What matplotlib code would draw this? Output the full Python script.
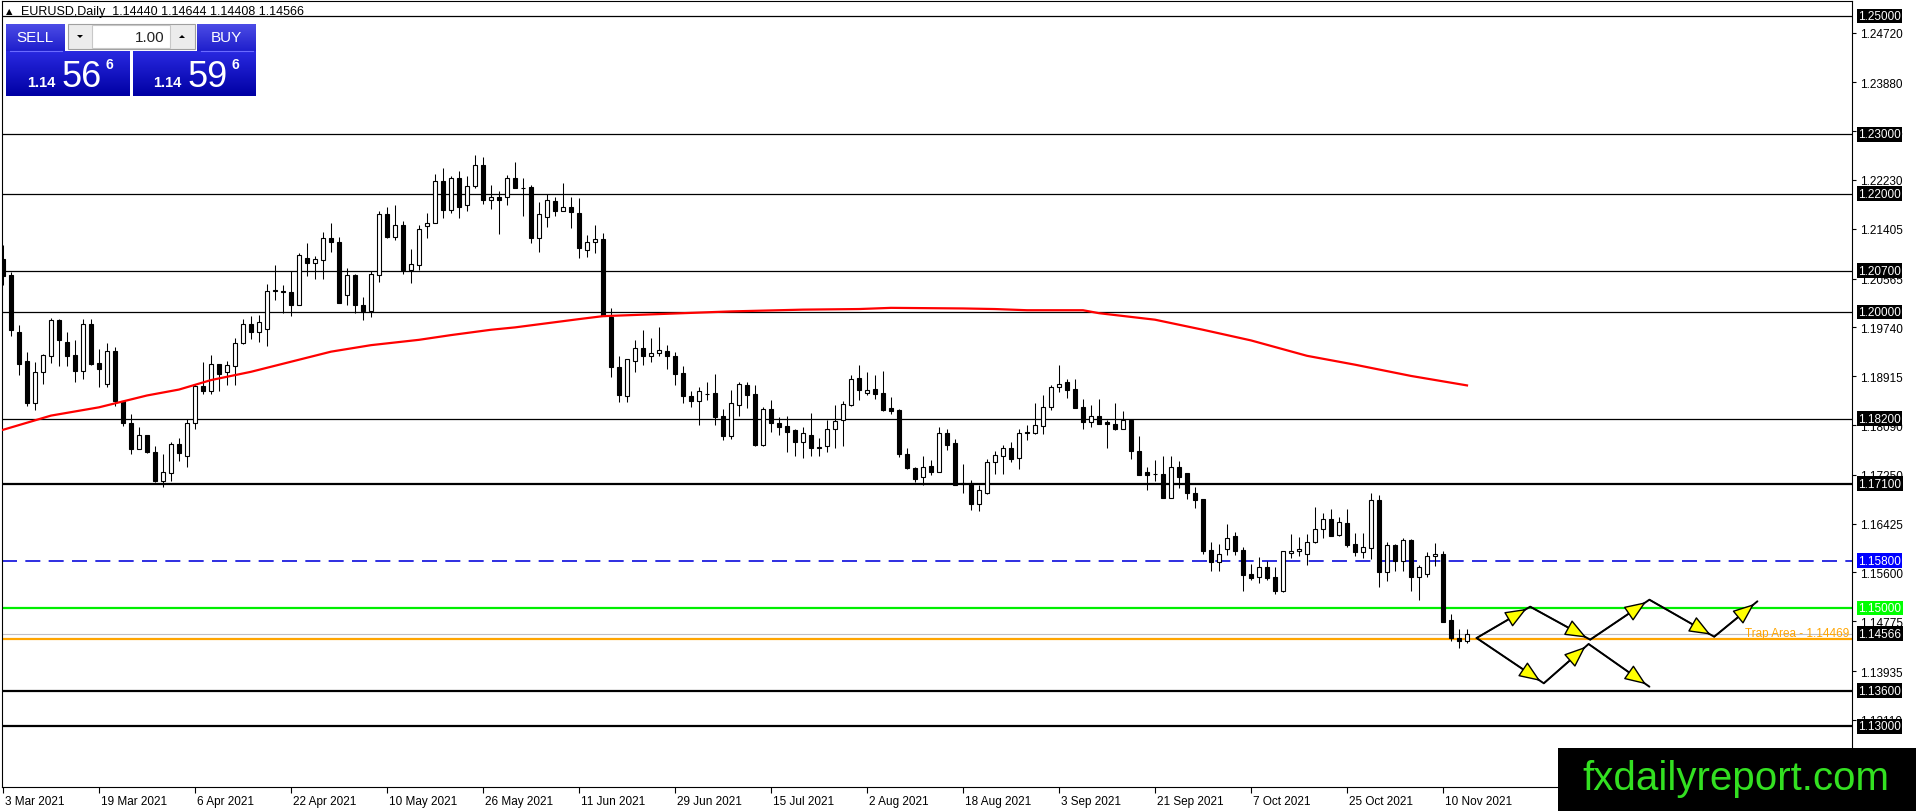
import numpy as np
import matplotlib
matplotlib.use("Agg")
import matplotlib.pyplot as plt
from matplotlib import transforms
from matplotlib.patches import Rectangle, Polygon

plt.rcParams['font.family'] = ['Liberation Sans', 'DejaVu Sans']

# one bar per trading day, bar 0 = 3 Mar 2021, last bar = 15 Nov 2021
opens = [
    1.2090, 1.2063, 1.1967, 1.1917, 1.1846, 1.1899, 1.1926, 1.1986, 1.1949, 1.1927,
    1.1901, 1.1979, 1.1914, 1.1879, 1.1934, 1.1849, 1.1812, 1.1769, 1.1792, 1.1763,
    1.1715, 1.1728, 1.1777, 1.1756, 1.1812, 1.1875, 1.1866, 1.1912, 1.1898, 1.1908,
    1.1947, 1.1980, 1.1966, 1.1972, 1.2038, 1.2036, 1.2033, 1.2012, 1.2091, 1.2083,
    1.2088, 1.2125, 1.2119, 1.2029, 1.2063, 1.2012, 1.2002, 1.2063, 1.2166, 1.2126,
    1.2147, 1.2071, 1.2080, 1.2145, 1.2151, 1.2221, 1.2173, 1.2226, 1.2180, 1.2212,
    1.2248, 1.2190, 1.2194, 1.2194, 1.2226, 1.2210, 1.2211, 1.2125, 1.2161, 1.2187,
    1.2171, 1.2178, 1.2168, 1.2105, 1.2118, 1.2124, 1.1991, 1.1907, 1.1858, 1.1917,
    1.1939, 1.1925, 1.1930, 1.1934, 1.1925, 1.1897, 1.1858, 1.1849, 1.1862, 1.1863,
    1.1824, 1.1790, 1.1843, 1.1877, 1.1861, 1.1775, 1.1836, 1.1812, 1.1807, 1.1800,
    1.1781, 1.1793, 1.1772, 1.1773, 1.1803, 1.1817, 1.1843, 1.1888, 1.1864, 1.1870,
    1.1863, 1.1837, 1.1834, 1.1760, 1.1736, 1.1721, 1.1740, 1.1729, 1.1795, 1.1779,
    1.1711, 1.1711, 1.1675, 1.1694, 1.1746, 1.1756, 1.1771, 1.1753, 1.1797, 1.1796,
    1.1808, 1.1839, 1.1874, 1.1881, 1.1870, 1.1839, 1.1815, 1.1825, 1.1814, 1.1811,
    1.1802, 1.1818, 1.1765, 1.1729, 1.1726, 1.1726, 1.1686, 1.1738, 1.1728, 1.1695,
    1.1684, 1.1598, 1.1577, 1.1599, 1.1621, 1.1598, 1.1557, 1.1552, 1.1569, 1.1552,
    1.1528, 1.1593, 1.1596, 1.1592, 1.1611, 1.1634, 1.1651, 1.1623, 1.1644, 1.1608,
    1.1595, 1.1601, 1.1682, 1.1561, 1.1606, 1.1579, 1.1615, 1.1553, 1.1558, 1.1587,
    1.1592, 1.1480, 1.1450, 1.14440,
]
highs = [
    1.2113, 1.2068, 1.1978, 1.1932, 1.1915, 1.1929, 1.1990, 1.1988, 1.1967, 1.1953,
    1.1988, 1.1988, 1.1937, 1.1948, 1.1941, 1.1849, 1.1828, 1.1805, 1.1793, 1.1773,
    1.1760, 1.1781, 1.1788, 1.1820, 1.1878, 1.1915, 1.1927, 1.1912, 1.1918, 1.1956,
    1.1988, 1.1994, 1.1995, 1.2048, 1.2079, 1.2045, 1.2070, 1.2100, 1.2116, 1.2094,
    1.2135, 1.2150, 1.2126, 1.2075, 1.2064, 1.2026, 1.2069, 1.2171, 1.2177, 1.2181,
    1.2153, 1.2106, 1.2147, 1.2168, 1.2233, 1.2244, 1.2229, 1.2239, 1.2229, 1.2265,
    1.2261, 1.2214, 1.2205, 1.2231, 1.2254, 1.2226, 1.2214, 1.2185, 1.2200, 1.2195,
    1.2218, 1.2194, 1.2192, 1.2130, 1.2147, 1.2134, 1.2006, 1.1925, 1.1921, 1.1953,
    1.1970, 1.1956, 1.1974, 1.1944, 1.1932, 1.1909, 1.1867, 1.1874, 1.1882, 1.1895,
    1.1836, 1.1868, 1.1882, 1.1881, 1.1877, 1.1839, 1.1851, 1.1822, 1.1824, 1.1803,
    1.1805, 1.1830, 1.1787, 1.1817, 1.1843, 1.1850, 1.1894, 1.1910, 1.1898, 1.1894,
    1.1900, 1.1857, 1.1836, 1.1770, 1.1739, 1.1756, 1.1750, 1.1805, 1.1802, 1.1785,
    1.1743, 1.1716, 1.1707, 1.1752, 1.1766, 1.1775, 1.1780, 1.1803, 1.1809, 1.1846,
    1.1859, 1.1877, 1.1910, 1.1887, 1.1887, 1.1853, 1.1843, 1.1853, 1.1818, 1.1846,
    1.1833, 1.1818, 1.1790, 1.1739, 1.1750, 1.1756, 1.1756, 1.1749, 1.1728, 1.1704,
    1.1684, 1.1611, 1.1608, 1.1642, 1.1629, 1.1603, 1.1574, 1.1586, 1.1580, 1.1570,
    1.1597, 1.1625, 1.1620, 1.1625, 1.1670, 1.1661, 1.1668, 1.1653, 1.1667, 1.1627,
    1.1627, 1.1694, 1.1691, 1.1611, 1.1608, 1.1618, 1.1617, 1.1573, 1.1594, 1.1610,
    1.1597, 1.1490, 1.1464, 1.14644,
]
lows = [
    1.2045, 1.1960, 1.1893, 1.1842, 1.1835, 1.1878, 1.1914, 1.1909, 1.1909, 1.1882,
    1.1886, 1.1910, 1.1873, 1.1874, 1.1842, 1.1808, 1.1760, 1.1768, 1.1762, 1.1712,
    1.1704, 1.1714, 1.1749, 1.1738, 1.1803, 1.1861, 1.1861, 1.1867, 1.1876, 1.1877,
    1.1946, 1.1954, 1.1950, 1.1942, 1.2021, 1.1998, 1.1993, 1.2012, 1.2060, 1.2056,
    1.2055, 1.2101, 1.2016, 1.2012, 1.1999, 1.1986, 1.1992, 1.2051, 1.2125, 1.2122,
    1.2064, 1.2049, 1.2071, 1.2125, 1.2150, 1.2159, 1.2168, 1.2159, 1.2171, 1.2209,
    1.2182, 1.2174, 1.2131, 1.2181, 1.2209, 1.2163, 1.2117, 1.2102, 1.2144, 1.2163,
    1.2170, 1.2142, 1.2091, 1.2093, 1.2100, 1.1994, 1.1891, 1.1848, 1.1848, 1.1898,
    1.1911, 1.1916, 1.1925, 1.1903, 1.1877, 1.1846, 1.1839, 1.1809, 1.1851, 1.1809,
    1.1783, 1.1785, 1.1825, 1.1837, 1.1773, 1.1773, 1.1797, 1.1793, 1.1764, 1.1756,
    1.1753, 1.1757, 1.1756, 1.1763, 1.1771, 1.1774, 1.1841, 1.1852, 1.1859, 1.1853,
    1.1833, 1.1828, 1.1755, 1.1735, 1.1712, 1.1707, 1.1724, 1.1729, 1.1767, 1.1708,
    1.1694, 1.1666, 1.1664, 1.1693, 1.1726, 1.1726, 1.1747, 1.1735, 1.1783, 1.1794,
    1.1794, 1.1835, 1.1865, 1.1855, 1.1838, 1.1802, 1.1806, 1.1810, 1.1771, 1.1800,
    1.1802, 1.1751, 1.1724, 1.1700, 1.1715, 1.1685, 1.1685, 1.1702, 1.1684, 1.1669,
    1.1591, 1.1563, 1.1563, 1.1589, 1.1589, 1.1529, 1.1548, 1.1542, 1.1548, 1.1524,
    1.1527, 1.1585, 1.1587, 1.1573, 1.1609, 1.1618, 1.1621, 1.1622, 1.1603, 1.1587,
    1.1585, 1.1583, 1.1536, 1.1546, 1.1563, 1.1563, 1.1529, 1.1514, 1.1552, 1.1571,
    1.1476, 1.1445, 1.1433, 1.14408,
]
closes = [
    1.2061, 1.1969, 1.1913, 1.1846, 1.1899, 1.1927, 1.1986, 1.1952, 1.1926, 1.1901,
    1.1979, 1.1913, 1.1903, 1.1934, 1.1850, 1.1812, 1.1769, 1.1793, 1.1763, 1.1715,
    1.1729, 1.1777, 1.1762, 1.1812, 1.1875, 1.1867, 1.1913, 1.1896, 1.1910, 1.1947,
    1.1979, 1.1966, 1.1983, 1.2036, 1.2035, 1.2033, 1.2012, 1.2096, 1.2083, 1.2089,
    1.2125, 1.2119, 1.2016, 1.2062, 1.2011, 1.2002, 1.2064, 1.2166, 1.2127, 1.2147,
    1.2071, 1.2081, 1.2140, 1.2150, 1.2221, 1.2173, 1.2226, 1.2178, 1.2212, 1.2248,
    1.2190, 1.2194, 1.2190, 1.2226, 1.2209, 1.2209, 1.2125, 1.2165, 1.2189, 1.2171,
    1.2178, 1.2169, 1.2108, 1.2118, 1.2124, 1.1994, 1.1907, 1.1859, 1.1920, 1.1939,
    1.1925, 1.1930, 1.1936, 1.1925, 1.1896, 1.1858, 1.1849, 1.1866, 1.1861, 1.1823,
    1.1790, 1.1846, 1.1878, 1.1860, 1.1775, 1.1836, 1.1812, 1.1805, 1.1798, 1.1780,
    1.1795, 1.1771, 1.1771, 1.1803, 1.1816, 1.1844, 1.1886, 1.1869, 1.1869, 1.1861,
    1.1835, 1.1833, 1.1760, 1.1736, 1.1718, 1.1739, 1.1729, 1.1795, 1.1776, 1.1708,
    1.1709, 1.1675, 1.1699, 1.1746, 1.1758, 1.1771, 1.1751, 1.1795, 1.1796, 1.1809,
    1.1839, 1.1874, 1.1878, 1.1869, 1.1838, 1.1815, 1.1825, 1.1810, 1.1810, 1.1802,
    1.1818, 1.1765, 1.1724, 1.1725, 1.1726, 1.1686, 1.1738, 1.1721, 1.1695, 1.1683,
    1.1597, 1.1577, 1.1592, 1.1619, 1.1597, 1.1556, 1.1551, 1.1569, 1.1551, 1.1528,
    1.1596, 1.1596, 1.1600, 1.1611, 1.1633, 1.1651, 1.1622, 1.1645, 1.1607, 1.1595,
    1.1603, 1.1682, 1.1561, 1.1606, 1.1579, 1.1615, 1.1553, 1.1569, 1.1587, 1.1592,
    1.1477, 1.1450, 1.1444, 1.14566,
]

# red moving average, read at a few bars
ma_bars = [0, 6, 12, 18, 22, 26, 31, 36, 41, 46, 52, 56, 61, 64, 68, 72, 75, 79,
           85, 91, 100, 107, 111, 120, 124, 128, 135, 137, 144, 150, 156, 163,
           169, 176, 183]
ma_vals = [1.1801, 1.1825, 1.1839, 1.1859, 1.1869, 1.1885, 1.1899, 1.1916, 1.1933,
           1.1944, 1.1953, 1.1961, 1.1970, 1.1974, 1.1981, 1.1988, 1.1993, 1.1995,
           1.1998, 1.2001, 1.2004, 1.2005, 1.2007, 1.2006, 1.2005, 1.2003, 1.2003,
           1.1998, 1.1987, 1.1970, 1.1952, 1.1926, 1.1911, 1.1892, 1.1876]

date_ticks = list(range(0, 181, 12))
date_labels = ["3 Mar 2021", "19 Mar 2021", "6 Apr 2021", "22 Apr 2021",
               "10 May 2021", "26 May 2021", "11 Jun 2021", "29 Jun 2021",
               "15 Jul 2021", "2 Aug 2021", "18 Aug 2021", "3 Sep 2021",
               "21 Sep 2021", "7 Oct 2021", "25 Oct 2021", "10 Nov 2021"]

price_ticks = [1.24720, 1.23880, 1.23055, 1.22230, 1.21405, 1.20565, 1.19740,
               1.18915, 1.18090, 1.17250, 1.16425, 1.15600, 1.14775, 1.13935,
               1.13110]

thin_levels = [1.25, 1.23, 1.22, 1.207, 1.20, 1.182]
thick_levels = [1.171, 1.136, 1.13]
blue_level = 1.158
green_level = 1.15
trap_level = 1.14469
last_price = 1.14566

# projected zigzag paths (bar index, price)
up_path_x = [184.2, 190.9, 198.4, 205.8, 213.9, 219.3]
up_path_y = [1.14493, 1.15022, 1.14465, 1.15140, 1.14515, 1.15113]
down_path_x = [184.2, 192.6, 198.2, 205.8]
down_path_y = [1.14493, 1.13728, 1.14392, 1.13671]

W, H = 1916, 812
fig = plt.figure(figsize=(W / 100, H / 100), dpi=100)
fig.patch.set_facecolor("white")
ax = fig.add_axes([2 / W, 24 / H, 1850 / W, 786 / H])
ax.set_xlim(-0.125, 231.125)
ax.set_ylim(1.119764, 1.252534)

# levels
for lv in thin_levels:
    ax.axhline(lv, color="black", lw=0.9, zorder=2)
for lv in thick_levels:
    ax.axhline(lv, color="black", lw=1.6, zorder=2)
ax.axhline(blue_level, color="#0a0adc", lw=1.2, ls=(0, (9, 5)), zorder=2)
ax.axhline(green_level, color="#00ee00", lw=1.6, zorder=2)
ax.axhline(last_price, color="#c0c0c8", lw=0.8, zorder=2)
ax.axhline(trap_level, color="#ffa500", lw=1.6, zorder=2)

# candles
x = np.arange(len(opens))
o = np.array(opens)
c = np.array(closes)
ax.vlines(x, lows, highs, color="black", lw=0.75, zorder=3)
bottoms = np.minimum(o, c)
heights = np.maximum(np.abs(c - o), 0.00002)
faces = ["white" if cc >= oo else "black" for oo, cc in zip(o, c)]
ax.bar(x, heights, width=0.55, bottom=bottoms, color=faces, edgecolor="black",
       linewidth=0.8, zorder=4)

# moving average
ax.plot(ma_bars, ma_vals, color="#ff0000", lw=1.6, zorder=5)

# zigzag arrows
for px, py in [(up_path_x, up_path_y), (down_path_x, down_path_y)]:
    ax.plot(px, py, color="black", lw=1.4, zorder=6, solid_capstyle="round")
    for i in range(len(px) - 1):
        ax.annotate("", xy=(px[i + 1], py[i + 1]), xytext=(px[i], py[i]),
                    arrowprops=dict(arrowstyle="-|>,head_length=0.75,head_width=0.3",
                                    mutation_scale=18, fc="#ffff00", ec="black",
                                    lw=1.0, shrinkA=0, shrinkB=3),
                    zorder=7)

trans = transforms.blended_transform_factory(ax.transAxes, ax.transData)
ax.text(0.9985, trap_level + 0.00012, "Trap Area - 1.14469", transform=trans,
        ha="right", va="bottom", color="#ffa500", fontsize=8.5, zorder=6)

# axes styling
for sp in ax.spines.values():
    sp.set_color("black")
    sp.set_linewidth(0.8)
ax.yaxis.tick_right()
ax.set_yticks(price_ticks)
ax.set_yticklabels([f"{v:.5f}" for v in price_ticks])
ax.tick_params(axis="y", direction="out", length=3, width=0.8, pad=3,
               labelsize=8.5, colors="black")
ax.set_xticks(date_ticks)
ax.set_xticklabels(date_labels)
ax.tick_params(axis="x", direction="out", length=4, width=0.8, pad=2,
               labelsize=8.5)
shift = transforms.ScaledTranslation(2 / 100, 0, fig.dpi_scale_trans)
for lab in ax.get_xticklabels():
    lab.set_ha("left")
    lab.set_transform(lab.get_transform() + shift)

# price boxes on the right scale
box_levels = thin_levels + thick_levels + [last_price]
for lv in box_levels:
    ax.text(1.0033, lv, f"{lv:.5f}", transform=trans, ha="left", va="center",
            color="white", fontsize=8.5, clip_on=False, zorder=8,
            bbox=dict(boxstyle="square,pad=0.12", fc="black", ec="none"))
ax.text(1.0033, blue_level, f"{blue_level:.5f}", transform=trans, ha="left",
        va="center", color="white", fontsize=8.5, clip_on=False, zorder=8,
        bbox=dict(boxstyle="square,pad=0.12", fc="#0000ff", ec="none"))
ax.text(1.0033, green_level, f"{green_level:.5f}", transform=trans, ha="left",
        va="center", color="white", fontsize=8.5, clip_on=False, zorder=8,
        bbox=dict(boxstyle="square,pad=0.12", fc="#00ff00", ec="none"))

# overlay in pixel coordinates: header, trade panel, watermark
ov = fig.add_axes([0, 0, 1, 1], zorder=10)
ov.patch.set_visible(False)
ov.axis("off")


def grad_box(x0, y0, x1, y1, top, bottom):
    g = np.linspace(0, 1, 64)[:, None, None]
    img = np.array(top)[None, None, :] * (1 - g) + np.array(bottom)[None, None, :] * g
    ov.imshow(img, extent=(x0, x1, y1, y0), aspect="auto", origin="upper",
              interpolation="bilinear", zorder=1)


ov.text(6, 12, "\u25b2", fontsize=6, family="DejaVu Sans", va="center", color="black")
ov.text(21, 12, "EURUSD,Daily  1.14440 1.14644 1.14408 1.14566", fontsize=9,
        va="center", color="black")

grad_box(6, 25, 65, 52, (0.30, 0.30, 0.90), (0.12, 0.12, 0.80))
grad_box(197, 25, 256, 52, (0.30, 0.30, 0.90), (0.12, 0.12, 0.80))
grad_box(6, 52, 130, 97, (0.16, 0.16, 0.88), (0.0, 0.0, 0.64))
grad_box(133, 52, 256, 97, (0.16, 0.16, 0.88), (0.0, 0.0, 0.64))
ov.plot([10, 62], [52, 52], color="#6a6aff", lw=0.8, zorder=2)
ov.plot([201, 253], [52, 52], color="#6a6aff", lw=0.8, zorder=2)
ov.text(35, 38.5, "SELL", color="white", fontsize=11, ha="center", va="center", zorder=3)
ov.text(226, 38.5, "BUY", color="white", fontsize=11, ha="center", va="center", zorder=3)

ov.add_patch(Rectangle((68, 25), 127, 25, fc="#ececec", ec="#a0a0a0", lw=0.8, zorder=2))
ov.add_patch(Rectangle((92, 26), 78, 23, fc="white", ec="#c8c8c8", lw=0.8, zorder=2))
ov.add_patch(Polygon([(77, 36), (83, 36), (80, 39)], closed=True, fc="black", zorder=3))
ov.add_patch(Polygon([(179, 39), (185, 39), (182, 36)], closed=True, fc="black", zorder=3))
ov.text(165, 37.5, "1.00", color="#222222", fontsize=11, ha="right", va="center", zorder=3)

for x0, whole, big in [(27, "1.14", "56"), (153, "1.14", "59")]:
    ov.text(x0, 87, whole, color="white", fontsize=10.5, fontweight="bold",
            va="baseline", zorder=3)
    ov.text(x0 + 35, 87, big, color="white", fontsize=26, va="baseline", zorder=3)
    ov.text(x0 + 79, 69, "6", color="white", fontsize=10, fontweight="bold",
            va="baseline", zorder=3)

ov.add_patch(Rectangle((1558, 749), 358, 63, fc="black", ec="none", zorder=2))
ov.text(1736, 790, "fxdailyreport.com", color="#33e021", fontsize=29,
        ha="center", va="baseline", zorder=3)

ov.set_xlim(0, W)
ov.set_ylim(H, 0)

fig.savefig("out.png", dpi=100)
